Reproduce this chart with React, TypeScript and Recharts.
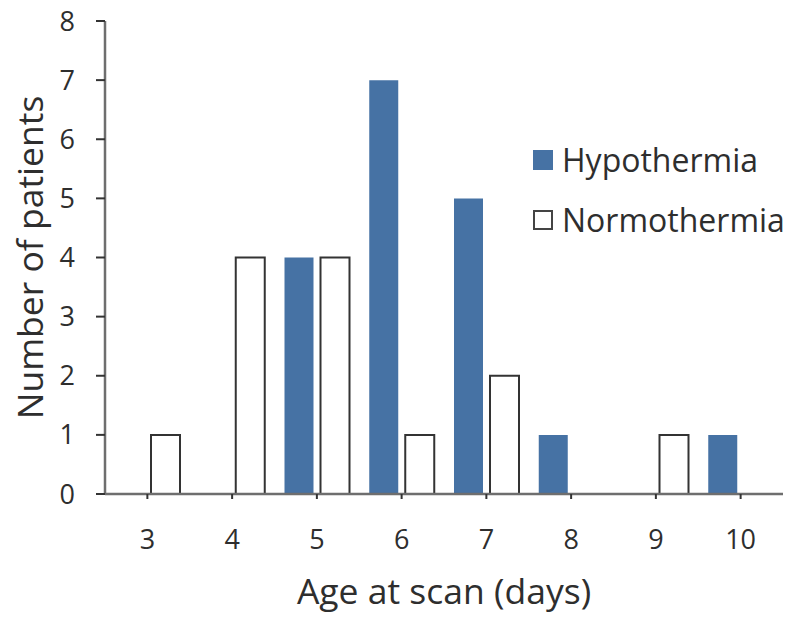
import { BarChart, Bar, XAxis, YAxis, Legend, Label } from "recharts";

const AGES = ["3", "4", "5", "6", "7", "8", "9", "10"];
const HYPOTHERMIA = [0, 0, 4, 7, 5, 1, 0, 1];
const NORMOTHERMIA = [1, 4, 4, 1, 2, 0, 1, 0];
const Y_TICKS = [0, 1, 2, 3, 4, 5, 6, 7, 8];

const BLUE = "#4672a4";
const TEXT = "#2e2e2e";
const AXIS = "#6e6e6e";
const FONT = "'Open Sans', sans-serif";

const data = AGES.map((age, i) => ({
  age,
  hypo: HYPOTHERMIA[i],
  normo: NORMOTHERMIA[i],
}));

function LegendBox({ payload }: any) {
  return (
    <div style={{ fontFamily: FONT, fontSize: 32, color: TEXT }}>
      {(payload || []).map((p: any) => (
        <div key={p.value} style={{ display: "flex", alignItems: "center", height: 60 }}>
          <span
            style={{
              width: 20,
              height: 20,
              boxSizing: "border-box",
              background: p.dataKey === "hypo" ? BLUE : "#fff",
              border: p.dataKey === "hypo" ? "none" : "2px solid #444",
              marginRight: 9,
            }}
          />
          <span style={{ lineHeight: 1 }}>{p.value}</span>
        </div>
      ))}
    </div>
  );
}

export default function App() {
  return (
    <div style={{ position: "absolute", left: 0, top: 0, background: "#fff" }}>
      <BarChart
        width={800}
        height={626}
        data={data}
        margin={{ top: 21, right: 17, left: 0, bottom: 0 }}
        barSize={29}
        barGap={7}
        style={{ fontFamily: FONT }}
      >
        <XAxis
          dataKey="age"
          height={132}
          axisLine={{ stroke: AXIS, strokeWidth: 2.5 }}
          tickLine={{ stroke: "#333", strokeWidth: 2 }}
          tickSize={5}
          tickMargin={31}
          tick={{ fontSize: 27, fill: TEXT, fontFamily: FONT }}
        >
          <Label
            value="Age at scan (days)"
            position="insideBottom"
            offset={22}
            style={{ fontSize: 35.5, fill: TEXT, fontFamily: FONT }}
          />
        </XAxis>
        <YAxis
          width={105}
          domain={[0, 8]}
          ticks={Y_TICKS}
          interval={0}
          axisLine={{ stroke: AXIS, strokeWidth: 2.5 }}
          tickLine={{ stroke: "#333", strokeWidth: 2 }}
          tickSize={9}
          tickMargin={21}
          tick={{ fontSize: 27, fill: TEXT, fontFamily: FONT }}
        >
          <Label
            value="Number of patients"
            angle={-90}
            position="insideLeft"
            offset={30}
            style={{ fontSize: 35.5, fill: TEXT, fontFamily: FONT, textAnchor: "middle" }}
          />
        </YAxis>
        <Legend
          layout="vertical"
          align="center"
          verticalAlign="middle"
          content={<LegendBox />}
          wrapperStyle={{ left: 533, top: 130, width: 265 }}
        />
        <Bar dataKey="hypo" name="Hypothermia" fill={BLUE} isAnimationActive={false} />
        <Bar
          dataKey="normo"
          name="Normothermia"
          fill="#ffffff"
          stroke="#333"
          strokeWidth={2}
          isAnimationActive={false}
        />
      </BarChart>
    </div>
  );
}
